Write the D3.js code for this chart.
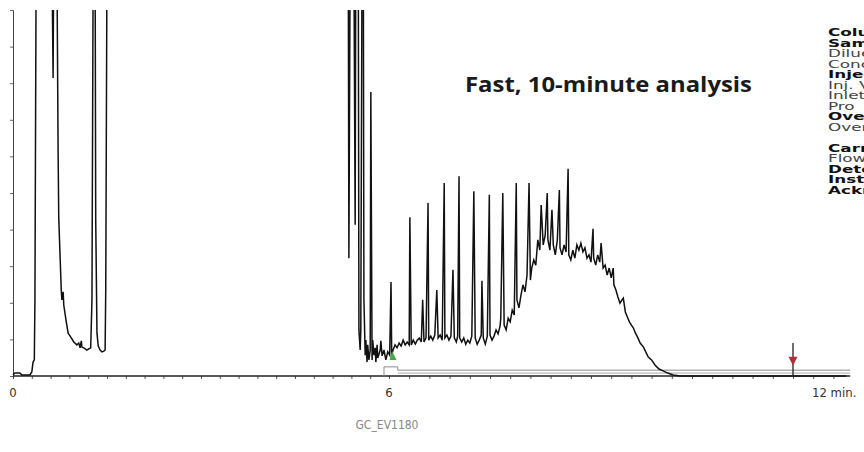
<!DOCTYPE html>
<html>
<head>
<meta charset="utf-8">
<script src="https://cdn.jsdelivr.net/npm/d3@7"></script>
<style>
  body { margin: 0; background: #fff; }
  svg { display: block; }
</style>
</head>
<body>
<svg id="chart" width="864" height="452"></svg>
<script>
// chromatogram trace: [time (min), signal (% of full scale)], values > 100 run off the top
const traceTimes = [
  0.00, 0.03, 0.11, 0.14, 0.27, 0.30, 0.32, 0.34, 0.35, 0.37,
  0.62, 0.64, 0.65, 0.70, 0.72, 0.73, 0.77, 0.78, 0.80, 0.81, 0.85, 0.88, 0.93, 0.97, 1.02, 1.05, 1.07, 1.09, 1.10, 1.13,
  1.18, 1.21, 1.24, 1.26, 1.28, 1.31, 1.32, 1.34, 1.36, 1.39, 1.42, 1.45, 1.47, 1.48, 1.50,
  5.35, 5.36, 5.38, 5.44, 5.46, 5.47, 5.51, 5.52, 5.54, 5.55, 5.57, 5.59, 5.60, 5.62, 5.63, 5.65, 5.66, 5.68, 5.70, 5.71,
  5.73, 5.74, 5.76, 5.78, 5.79, 5.81, 5.82, 5.86, 5.87, 5.89, 5.92, 5.95, 5.98, 6.01, 6.03, 6.04, 6.06, 6.09, 6.12, 6.15,
  6.18, 6.21, 6.24, 6.27, 6.30, 6.31, 6.33, 6.36, 6.39, 6.42, 6.45, 6.48, 6.50, 6.52, 6.55, 6.58, 6.59, 6.62, 6.65, 6.68,
  6.71, 6.73, 6.76, 6.79, 6.82, 6.83, 6.86, 6.89, 6.92, 6.95, 6.97, 7.00, 7.02, 7.04, 7.05, 7.08, 7.11, 7.14, 7.17, 7.20,
  7.23, 7.26, 7.28, 7.31, 7.34, 7.37, 7.38, 7.40, 7.43, 7.46, 7.49, 7.50, 7.53, 7.56, 7.59, 7.62, 7.65, 7.66, 7.69, 7.71,
  7.74, 7.77, 7.80, 7.83, 7.86, 7.89, 7.90, 7.93, 7.96, 7.99, 8.02, 8.05, 8.08, 8.10, 8.12, 8.15, 8.18, 8.21, 8.24, 8.26,
  8.29, 8.32, 8.35, 8.36, 8.39, 8.42, 8.44, 8.47, 8.50, 8.53, 8.54, 8.57, 8.60, 8.63, 8.66, 8.67, 8.70, 8.73, 8.76, 8.79,
  8.82, 8.85, 8.88, 8.91, 8.94, 8.97, 9.00, 9.03, 9.04, 9.07, 9.10, 9.13, 9.15, 9.18, 9.21, 9.24, 9.27, 9.30, 9.33, 9.34,
  9.37, 9.40, 9.43, 9.46, 9.48, 9.51, 9.54, 9.57, 9.60, 9.63, 9.66, 9.69, 9.73, 9.78, 9.82, 9.85, 9.90, 9.95, 10.01, 10.07,
  10.14, 10.22, 10.32, 10.47, 12.79
];
const traceSignal = [
  0.3, 0.8, 0.8, 0.3, 0.3, 1.1, 3.8, 4.4, 20.8, 115,
  115, 81.4, 115, 115, 61.2, 43.2, 23.5, 20.8, 23.0, 19.4, 14.8, 11.7, 10.4, 9.3, 8.5, 9.0, 7.7, 9.6, 7.9, 7.7,
  7.1, 7.4, 7.7, 20.8, 115, 115, 42.6, 11.7, 8.2, 7.1, 6.6, 6.8, 7.1, 23.5, 115,
  115, 32.2, 115, 115, 41.3, 115, 115, 12.6, 7.1, 12.6, 115, 115, 20.8, 5.7, 9.8, 3.8, 8.5, 4.4, 7.1, 77.6,
  4.4, 9.8, 5.7, 7.7, 3.8, 8.5, 4.9, 7.1, 9.6, 5.5, 7.1, 4.4, 6.6, 5.7, 25.7, 5.7, 7.1, 8.5, 7.7, 9.0,
  8.2, 9.8, 8.5, 9.3, 8.5, 43.4, 8.5, 9.8, 8.7, 9.8, 10.4, 9.3, 20.8, 9.3, 10.4, 47.3, 9.8, 10.9, 9.8, 11.2,
  23.5, 10.4, 11.2, 9.8, 52.7, 10.4, 11.2, 9.8, 10.9, 29.0, 10.4, 9.3, 10.9, 54.6, 10.4, 9.3, 10.4, 8.7, 9.8, 9.0,
  10.9, 50.5, 10.4, 8.7, 9.8, 11.2, 26.0, 10.4, 8.7, 10.9, 49.5, 11.2, 9.8, 10.9, 12.6, 11.5, 13.7, 15.8, 50.0, 13.9,
  12.6, 15.8, 14.8, 18.0, 16.7, 52.7, 20.8, 18.6, 22.1, 24.9, 23.0, 27.6, 52.7, 26.2, 29.5, 31.7, 30.3, 37.2, 34.4, 46.7,
  35.8, 38.5, 50.0, 37.2, 34.4, 45.4, 35.8, 33.1, 37.2, 50.8, 35.0, 33.1, 35.8, 33.9, 56.6, 33.1, 31.7, 34.4, 32.2, 35.8,
  34.4, 36.3, 33.9, 35.0, 32.2, 33.1, 31.1, 40.2, 32.2, 30.3, 33.1, 31.1, 36.3, 29.5, 30.3, 27.6, 29.5, 26.8, 29.5, 24.9,
  23.5, 21.6, 19.9, 20.8, 21.3, 17.5, 16.1, 14.8, 13.9, 13.1, 11.7, 10.7, 9.0, 7.9, 6.3, 5.2, 4.4, 3.0, 1.9, 1.4,
  0.8, 0.3, 0, 0, 0
];

// axis labels and annotations
const xTickLabels = [
  { t: 0, label: "0" },
  { t: 6, label: "6" },
  { t: 12, label: "12 min." }
];
const eventUpper = [[5.92, 0], [5.92, 2.5], [6.13, 2.5], [6.13, 1.6], [12.85, 1.6]];
const eventLower = [[6.13, 0.8], [12.85, 0.8]];
const peakStart = { t: 6.06, s: 5.2 };
const runEnd = { t: 12, s: 9 };

const title = "Fast, 10-minute analysis";
const figureId = "GC_EV1180";
const conditions = [
  { text: "Column", bold: true },
  { text: "Sample", bold: true },
  { text: "Diluent:", bold: false },
  { text: "Conc.:", bold: false },
  { text: "Injection", bold: true },
  { text: "Inj. Vol.:", bold: false },
  { text: "Inlet Temp.:", bold: false },
  { text: "Pro", bold: false },
  { text: "Oven", bold: true },
  { text: "Oven Temp.:", bold: false },
  { text: "", bold: false },
  { text: "Carrier Gas", bold: true },
  { text: "Flow Rate:", bold: false },
  { text: "Detector", bold: true },
  { text: "Instrument", bold: true },
  { text: "Acknowledgement", bold: true }
];

const svg = d3.select("#chart");

const x = d3.scaleLinear().domain([0, 6, 12]).range([13, 389, 793]);
const y = d3.scaleLinear().domain([0, 100]).range([376, 10]);

svg.append("clipPath").attr("id", "plotClip")
  .append("rect").attr("x", 0).attr("y", 10).attr("width", 864).attr("height", 368);

const narrow = "'Liberation Sans Narrow', 'DejaVu Sans Condensed', sans-serif";

// y axis with small ticks
const yAxis = svg.append("g")
  .attr("transform", `translate(${x(0)},0)`)
  .call(d3.axisLeft(y).tickValues(d3.range(0, 101, 10)).tickSize(3).tickFormat(""));
yAxis.select(".domain").attr("stroke", "#444");
yAxis.selectAll(".tick line").attr("stroke", "#666");

// x axis: ticks every 0.3 min, line drawn out to the end of the run
const xAxis = svg.append("g")
  .attr("transform", `translate(0,${y(0)})`)
  .call(d3.axisBottom(x).tickValues(d3.range(0, 12.8, 0.3)).tickSize(3).tickFormat(""));
xAxis.select(".domain").remove();
xAxis.selectAll(".tick line").attr("stroke", "#555");
svg.append("line")
  .attr("x1", x(0)).attr("x2", x(12.85))
  .attr("y1", y(0)).attr("y2", y(0))
  .attr("stroke", "#222").attr("stroke-width", 1.4);

svg.append("g").selectAll("text")
  .data(xTickLabels)
  .join("text")
  .attr("x", d => x(d.t) + (d.t === 12 ? 19 : 0))
  .attr("y", 397)
  .attr("text-anchor", d => d.t === 12 ? "start" : "middle")
  .attr("font-family", narrow)
  .attr("font-size", 13)
  .attr("fill", "#333")
  .text(d => d.label);

// timed-event lines
const evLine = d3.line().x(d => x(d[0])).y(d => y(d[1]));
svg.append("path").attr("d", evLine(eventUpper))
  .attr("fill", "none").attr("stroke", "#8a8a8a").attr("stroke-width", 1);
svg.append("path").attr("d", evLine(eventLower))
  .attr("fill", "none").attr("stroke", "#aaa").attr("stroke-width", 1);

// the trace
const trace = traceTimes.map((t, i) => [t, traceSignal[i]]);
svg.append("path")
  .attr("clip-path", "url(#plotClip)")
  .attr("d", d3.line().x(d => x(d[0])).y(d => y(d[1]))(trace))
  .attr("fill", "none")
  .attr("stroke", "#111")
  .attr("stroke-width", 1.5)
  .attr("stroke-linejoin", "miter");

// peak start marker (green)
const px = x(peakStart.t), py = y(peakStart.s);
svg.append("path")
  .attr("d", `M${px - 1},${py - 6}L${px + 3.5},${py + 3}L${px - 3.5},${py + 3}Z`)
  .attr("fill", "#45a84a");

// run end marker
svg.append("line")
  .attr("x1", x(runEnd.t)).attr("x2", x(runEnd.t))
  .attr("y1", y(runEnd.s)).attr("y2", y(0))
  .attr("stroke", "#222").attr("stroke-width", 1.3);
const ex = x(runEnd.t), ey = y(runEnd.s * 0.4);
svg.append("path")
  .attr("d", `M${ex - 4.5},${ey - 6}L${ex + 4.5},${ey - 6}L${ex},${ey + 3}Z`)
  .attr("fill", "#b0303a");

// title, stretched to the width it has in the figure
svg.append("text")
  .attr("x", 465).attr("y", 92)
  .attr("font-family", "'Open Sans', sans-serif")
  .attr("font-weight", "bold")
  .attr("font-size", 21)
  .attr("textLength", 287)
  .attr("lengthAdjust", "spacingAndGlyphs")
  .attr("fill", "#1a1a1a")
  .text(title);

// conditions column, cut off by the right edge
svg.append("g").selectAll("text")
  .data(conditions)
  .join("text")
  .attr("transform", (d, i) => `translate(828,${36 + i * 10.5}) scale(1.6,1)`)
  .attr("font-family", "'DejaVu Sans', sans-serif")
  .attr("font-size", 10.5)
  .attr("font-weight", d => d.bold ? "bold" : "normal")
  .attr("fill", d => d.bold ? "#111" : "#444")
  .text(d => d.text);

svg.append("text")
  .attr("x", 387).attr("y", 429)
  .attr("text-anchor", "middle")
  .attr("font-family", narrow)
  .attr("font-size", 12)
  .attr("fill", "#888")
  .text(figureId);
</script>
</body>
</html>
